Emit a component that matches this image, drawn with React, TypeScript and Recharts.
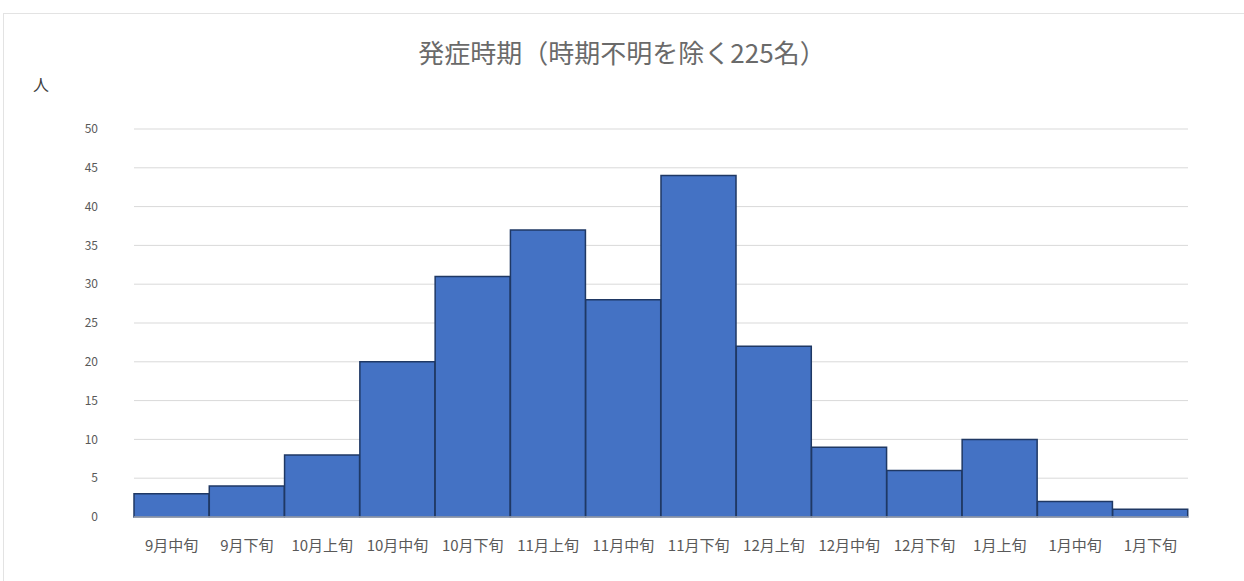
import React from "react";
import { BarChart, Bar, XAxis, YAxis, CartesianGrid } from "recharts";

const periods = [
  "9月中旬", "9月下旬", "10月上旬", "10月中旬", "10月下旬", "11月上旬", "11月中旬",
  "11月下旬", "12月上旬", "12月中旬", "12月下旬", "1月上旬", "1月中旬", "1月下旬",
];
const counts = [3, 4, 8, 20, 31, 37, 28, 44, 22, 9, 6, 10, 2, 1];
const yTicks = [0, 5, 10, 15, 20, 25, 30, 35, 40, 45, 50];

const data = periods.map((name, i) => ({ name, value: counts[i] }));

const font = '"Noto Sans CJK JP", "Noto Sans", sans-serif';

export default function App() {
  return (
    <div style={{ position: "absolute", left: 0, top: 0, width: 1244, height: 581, background: "#fff", overflow: "hidden", fontFamily: font }}>
      <div style={{ position: "absolute", left: 3, top: 13, width: 1260, height: 600, border: "1px solid #e3e3e3" }} />
      <div style={{ position: "absolute", left: 0, top: 36, width: 1244, textAlign: "center", fontSize: 26, color: "#6a6a6a", lineHeight: "32px" }}>
        発症時期（時期不明を除く225名）
      </div>
      <div style={{ position: "absolute", left: 33, top: 73, fontSize: 16, color: "#404040", lineHeight: "22px" }}>人</div>
      <div style={{ position: "absolute", left: 0, top: 0 }}>
        <BarChart
          width={1244}
          height={581}
          data={data}
          barCategoryGap={0}
          margin={{ top: 129, right: 56, left: 0, bottom: 14 }}
        >
          <CartesianGrid vertical={false} stroke="#d9d9d9" />
          <XAxis
            dataKey="name"
            interval={0}
            axisLine={{ stroke: "#d9d9d9" }}
            tickLine={false}
            tickSize={0}
            tickMargin={23}
            height={50}
            tick={{ fontSize: 15, fill: "#595959", fontFamily: font }}
          />
          <YAxis
            domain={[0, 50]}
            ticks={yTicks}
            width={134}
            axisLine={false}
            tickLine={false}
            tickSize={0}
            tickMargin={36}
            tick={{ fontSize: 12, fill: "#595959", fontFamily: font }}
          />
          <Bar dataKey="value" fill="#4472C4" stroke="#1f3864" strokeWidth={1.5} isAnimationActive={false} />
        </BarChart>
      </div>
    </div>
  );
}
